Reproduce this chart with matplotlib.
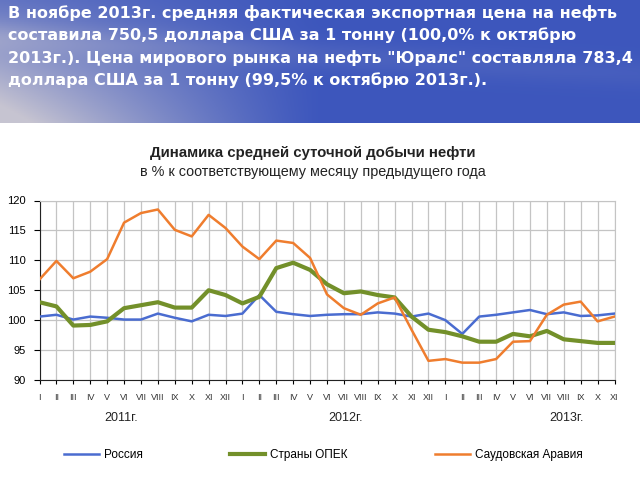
import matplotlib.pyplot as plt
import numpy as np

# month labels, Jan 2011 .. Nov 2013
roman = ["I", "II", "III", "IV", "V", "VI", "VII", "VIII", "IX", "X", "XI", "XII"]
months = roman + roman + roman[:11]
years = ["2011г.", "2012г.", "2013г."]

russia = [100.6, 100.9, 100.1, 100.6, 100.4, 100.1, 100.1, 101.1, 100.4, 99.8, 100.9, 100.7,
          101.1, 104.2, 101.4, 101.0, 100.7, 100.9, 101.0, 101.0, 101.3, 101.1, 100.6, 101.1,
          100.0, 97.7, 100.6, 100.9, 101.3, 101.7, 101.0, 101.3, 100.7, 100.8, 101.1]
opec = [103.0, 102.3, 99.1, 99.2, 99.8, 102.0, 102.5, 103.0, 102.1, 102.1, 105.0, 104.2,
        102.8, 103.9, 108.7, 109.6, 108.4, 106.0, 104.5, 104.8, 104.2, 103.8, 100.6, 98.4,
        98.0, 97.3, 96.4, 96.4, 97.7, 97.3, 98.2, 96.8, 96.5, 96.2, 96.2]
saudi = [106.8, 109.9, 107.0, 108.1, 110.2, 116.3, 117.9, 118.5, 115.1, 114.0, 117.6, 115.4,
         112.3, 110.2, 113.3, 112.9, 110.4, 104.3, 102.0, 100.9, 102.8, 103.8, 98.4, 93.2,
         93.5, 92.9, 92.9, 93.5, 96.4, 96.5, 100.9, 102.6, 103.1, 99.8, 100.6]

header = ('В ноябре 2013г. средняя фактическая экспортная цена на нефть\n'
          'составила 750,5 доллара США за 1 тонну (100,0% к октябрю\n'
          '2013г.). Цена мирового рынка на нефть "Юралс" составляла 783,4\n'
          'доллара США за 1 тонну (99,5% к октябрю 2013г.).')

fig = plt.figure(figsize=(6.4, 4.8), dpi=100)
fig.patch.set_facecolor("white")

# sky-like banner behind the header text
bg = fig.add_axes([0, 1 - 123 / 480, 1, 123 / 480])
u, v = np.meshgrid(np.linspace(0, 1, 320), np.linspace(0, 1, 62))
blue = np.array([0.24, 0.34, 0.74])
light = np.array([0.78, 0.77, 0.82])
w = np.clip((1 - u * 2.0) * (0.35 + 0.75 * v), 0, 1) ** 1.2
streak = 0.16 * np.exp(-((v - 0.3 - 0.3 * u) / 0.12) ** 2) * (1 - 0.6 * u)
img = blue + (light - blue) * (w + streak)[..., None]
bg.imshow(np.clip(img, 0, 1), aspect="auto", extent=[0, 1, 0, 1])
bg.axis("off")
fig.text(8 / 640, 1 - 5 / 480, header, color="white", fontsize=11.5, fontweight="bold",
         family="DejaVu Sans", va="top", ha="left", linespacing=1.5)

fig.text(313 / 640, 1 - 153 / 480, "Динамика средней суточной добычи нефти",
         fontsize=10.8, fontweight="bold", family="Liberation Sans", ha="center", va="center",
         color="#222222")
fig.text(313 / 640, 1 - 172 / 480, "в % к соответствующему месяцу предыдущего года",
         fontsize=10.4, family="Liberation Sans", ha="center", va="center", color="#222222")

ax = fig.add_axes([39.5 / 640, 1 - 380 / 480, 575 / 640, 179.5 / 480])
x = np.arange(len(months))
ax.plot(x, russia, color="#4a6cd0", lw=1.8, label="Россия", zorder=3)
ax.plot(x, opec, color="#73902a", lw=3.0, label="Страны ОПЕК", zorder=3)
ax.plot(x, saudi, color="#ef7d2e", lw=1.8, label="Саудовская Аравия", zorder=4)

ax.set_xlim(0, len(months) - 1)
ax.set_ylim(90, 120)
ax.set_yticks(range(90, 121, 5))
ax.set_xticks(x)
ax.set_xticklabels(months, fontsize=6.5, family="Liberation Sans", color="#333333")
ax.tick_params(axis="x", direction="out", length=3, pad=6)
ax.tick_params(axis="y", direction="out", length=4, labelsize=8, pad=6)
for lab in ax.get_yticklabels():
    lab.set_family("Liberation Sans")
ax.grid(True, color="#c4c4c4", lw=0.9)
ax.set_axisbelow(True)
for s in ["top", "right"]:
    ax.spines[s].set_color("#c4c4c4")
ax.spines["left"].set_color("#222222")
ax.spines["bottom"].set_color("#222222")

for name, px in zip(years, [121, 346, 567]):
    fig.text(px / 640, 1 - 418 / 480, name, fontsize=9, family="Liberation Sans",
             ha="center", va="center", color="#222222")

leg = fig.legend(loc="center", bbox_to_anchor=(323.5 / 640, 1 - 455 / 480), ncol=3,
                 frameon=False, handlelength=2.97, handletextpad=0.42, columnspacing=7.4,
                 prop={"family": "Liberation Sans", "size": 8.5})

fig.savefig("out.png", dpi=100)
